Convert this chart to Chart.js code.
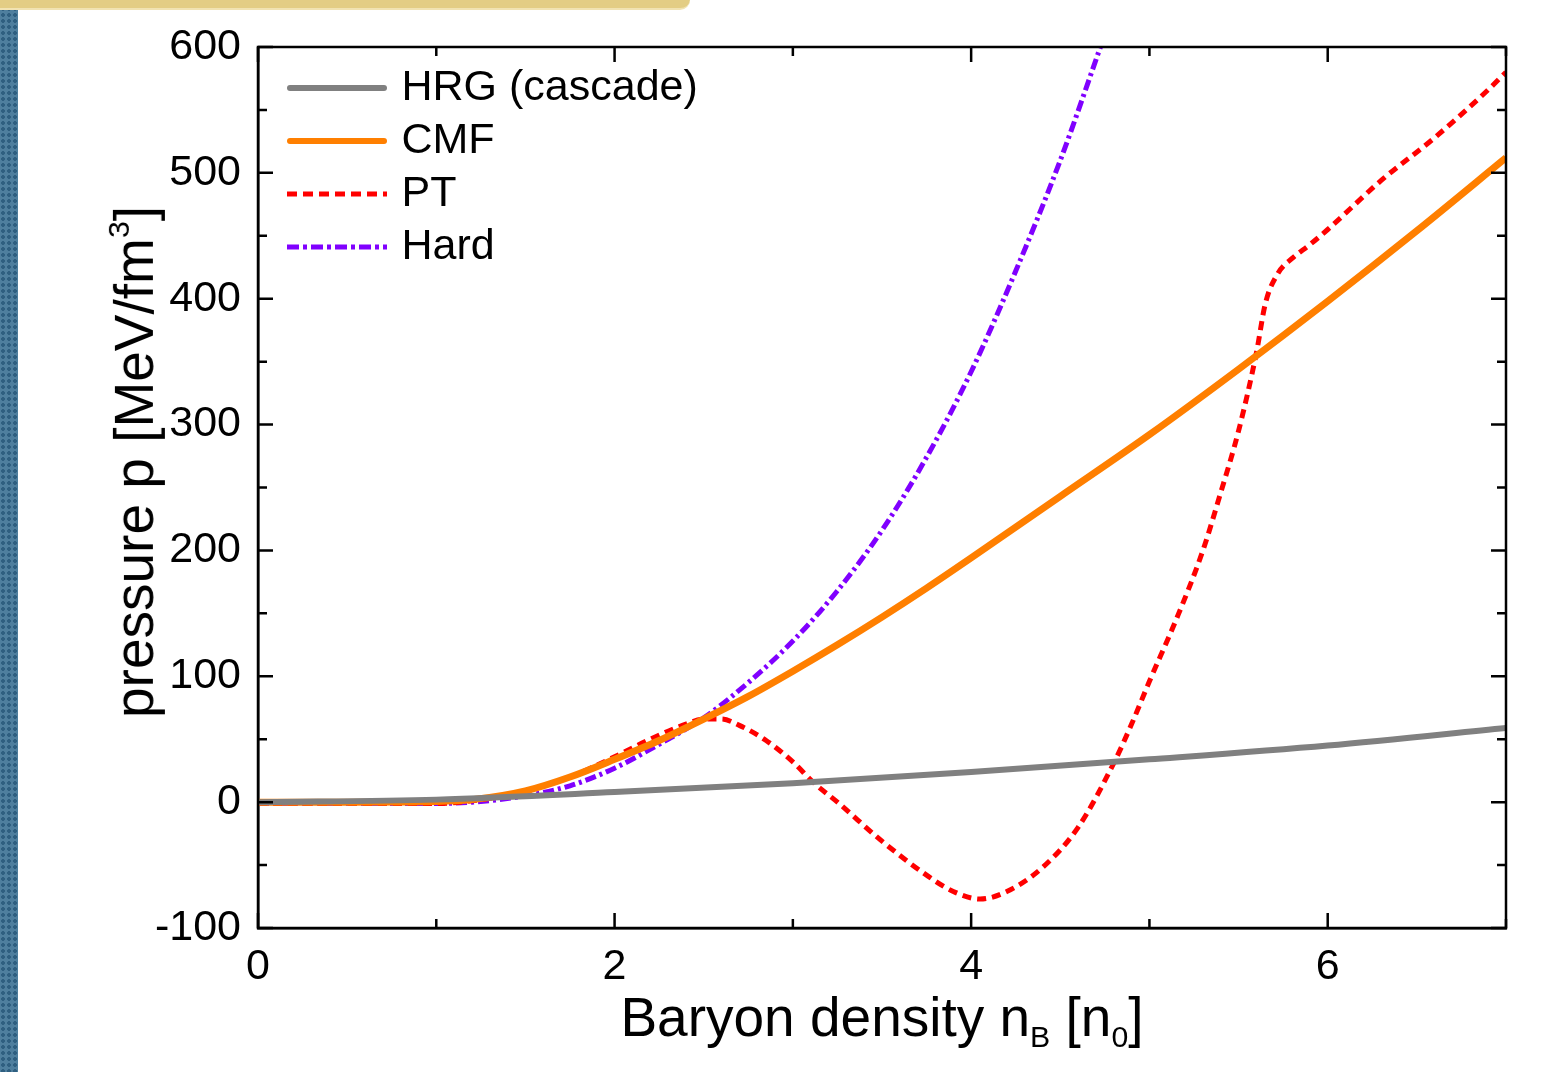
<!DOCTYPE html>
<html>
<head>
<meta charset="utf-8">
<script src="https://cdn.jsdelivr.net/npm/chart.js@4.4.1/dist/chart.umd.min.js"></script>
<style>
  html, body { margin:0; padding:0; background:#fff; }
  body { width:1553px; height:1072px; position:relative; overflow:hidden; font-family:"Liberation Sans", Arial, sans-serif; }
  #wrap { position:absolute; left:0; top:0; width:1553px; height:1072px; }
  #strip { position:absolute; left:0; top:0; width:18px; height:1072px;
    background-color:#4f7f9e;
    background-image: radial-gradient(circle, #2f5f80 1.6px, transparent 2.2px);
    background-size:6px 6px; }
  #bar { position:absolute; left:0; top:0; width:690px; height:8px; background:#e3cd84;
    border-bottom:2px solid #f1e3b2; border-radius:0 0 10px 0; }
  .ttl { position:absolute; font-size:55px; color:#000; white-space:nowrap; line-height:1; }
  .ttl sub { font-size:0.55em; vertical-align:-0.35em; }
  .ttl sup { font-size:0.55em; vertical-align:0.8em; }
  #xt { left:258px; width:1248px; top:990px; text-align:center; }
  #yt { left:133px; top:462px; transform:translate(-50%,-50%) rotate(-90deg); }
</style>
</head>
<body>
<div id="wrap"><canvas id="c" width="1553" height="1072"></canvas></div>
<div id="strip"></div>
<div id="bar"></div>
<div class="ttl" id="xt">Baryon density n<sub>B</sub> [n<sub>0</sub>]</div>
<div class="ttl" id="yt">pressure p [MeV/fm<sup>3</sup>]</div>
<script>
// ---- data ----
const seriesNames = ["HRG (cascade)", "CMF", "PT", "Hard"];

const hrgX = [0, 1, 2, 3, 4, 5, 6, 7];
const hrgP = [0, 2, 8, 15, 24, 34, 45, 59];

const cmfX = [0, 0.5, 1, 1.2, 1.5, 1.75, 2, 2.25, 2.5, 2.75, 3, 3.25, 3.5, 3.75, 4, 4.5, 5, 5.5, 6, 6.5, 7];
const cmfP = [0, 0, 0.5, 2, 9, 20, 34, 49, 66, 84, 104, 125, 147, 170, 194, 243, 292, 344, 398, 454, 512];

const ptX = [0, 1, 1.2, 1.5, 1.75, 2, 2.2, 2.4, 2.5, 2.6, 2.7, 2.85, 3, 3.12, 3.25, 3.5, 3.75, 3.9, 4.05, 4.2, 4.4, 4.6, 4.8, 4.9, 5, 5.15, 5.3, 5.4, 5.5, 5.6, 5.65, 5.72, 5.8, 5.9, 6, 6.3, 6.6, 6.9, 7];
const ptP = [-1, -1, 1, 9, 20, 36, 50, 62, 66, 66, 61, 49, 32, 15, 0, -31, -58, -71, -77, -71, -52, -20, 31, 62, 96, 145, 200, 246, 295, 357, 396, 420, 432, 443, 455, 494, 528, 566, 580];

const hardX = [0, 1, 1.2, 1.5, 1.75, 2, 2.25, 2.5, 2.75, 3, 3.25, 3.5, 3.75, 4, 4.25, 4.5, 4.75];
const hardP = [-1, -1, 0, 5, 13, 27, 46, 67, 95, 128, 168, 216, 274, 342, 422, 510, 610];

const xTickVals = [0, 2, 4, 6];
const xMinorVals = [0, 1, 2, 3, 4, 5, 6, 7];
const yTickVals = [-100, 0, 100, 200, 300, 400, 500, 600];
const yMinorVals = [-100, -50, 0, 50, 100, 150, 200, 250, 300, 350, 400, 450, 500, 550, 600];

const pts = (xs, ys) => xs.map((v, i) => ({x: v, y: ys[i]}));

// legend sample line images (dash patterns kept in the legend)
function legendLine(color, width, dash, cap) {
  const cv = document.createElement('canvas');
  cv.width = 100; cv.height = 14;
  const g = cv.getContext('2d');
  g.strokeStyle = color; g.lineWidth = width; g.lineCap = cap;
  g.setLineDash(dash);
  g.beginPath();
  const inset = cap === 'round' ? width / 2 : 0;
  g.moveTo(inset, 7); g.lineTo(100 - inset, 7);
  g.stroke();
  return cv;
}

const frameTicks = {
  id: 'frameTicks',
  afterDraw(chart) {
    const {ctx, chartArea: a, scales: {x, y}} = chart;
    ctx.save();
    ctx.strokeStyle = '#000';
    ctx.lineWidth = 2.5;
    ctx.lineCap = 'butt';
    ctx.strokeRect(a.left, a.top, a.right - a.left, a.bottom - a.top);
    ctx.beginPath();
    xMinorVals.forEach(v => {
      const px = x.getPixelForValue(v);
      const L = xTickVals.includes(v) ? 15 : 9;
      ctx.moveTo(px, a.bottom); ctx.lineTo(px, a.bottom - L);
      ctx.moveTo(px, a.top); ctx.lineTo(px, a.top + L);
    });
    yMinorVals.forEach(v => {
      const py = y.getPixelForValue(v);
      const L = yTickVals.includes(v) ? 15 : 9;
      ctx.moveTo(a.left, py); ctx.lineTo(a.left + L, py);
      ctx.moveTo(a.right, py); ctx.lineTo(a.right - L, py);
    });
    ctx.stroke();
    ctx.restore();
  }
};

const legendPlace = {
  id: 'legendPlace',
  afterLayout(chart) {
    if (chart.legend) {
      chart.legend.left = chart.chartArea.left + 26;
      chart.legend.top = chart.chartArea.top + 9.5;
    }
  }
};

const tickFont = {family: "'Liberation Sans', Arial, sans-serif", size: 43};

new Chart(document.getElementById('c'), {
  type: 'line',
  data: {
    datasets: [
      {label: seriesNames[0], data: pts(hrgX, hrgP), borderColor: '#808080', borderWidth: 6, pointRadius: 0,
       pointStyle: legendLine('#808080', 6, [], 'round'), cubicInterpolationMode: 'monotone', fill: false, clip: 0},
      {label: seriesNames[1], data: pts(cmfX, cmfP), borderColor: '#ff7f00', borderWidth: 7, pointRadius: 0,
       pointStyle: legendLine('#ff7f00', 6, [], 'round'), cubicInterpolationMode: 'monotone', fill: false, clip: 0},
      {label: seriesNames[2], data: pts(ptX, ptP), borderColor: '#ff0000', borderWidth: 5, borderDash: [9, 6], pointRadius: 0,
       pointStyle: legendLine('#ff0000', 5, [10, 6], 'butt'), cubicInterpolationMode: 'monotone', fill: false, clip: 0},
      {label: seriesNames[3], data: pts(hardX, hardP), borderColor: '#8000ff', borderWidth: 5, borderDash: [11, 4, 3, 4], pointRadius: 0,
       pointStyle: legendLine('#8000ff', 5, [12, 4, 4, 4], 'butt'), cubicInterpolationMode: 'monotone', fill: false, clip: 0}
    ]
  },
  options: {
    responsive: false,
    animation: false,
    events: [],
    layout: {padding: {left: 0, top: 47, right: 47, bottom: 0}},
    scales: {
      x: {
        type: 'linear', min: 0, max: 7,
        afterBuildTicks: s => { s.ticks = xTickVals.map(v => ({value: v})); },
        afterFit: s => { s.height = 1072 - 928; },
        grid: {display: false, drawTicks: false},
        border: {display: true, color: '#000', width: 2.5},
        ticks: {color: '#000', font: tickFont, padding: 13, maxRotation: 0}
      },
      y: {
        type: 'linear', min: -100, max: 600,
        afterBuildTicks: s => { s.ticks = yTickVals.map(v => ({value: v})); },
        afterFit: s => { s.width = 258; },
        grid: {display: false, drawTicks: false},
        border: {display: true, color: '#000', width: 2.5},
        ticks: {color: '#000', font: tickFont, padding: 17}
      }
    },
    plugins: {
      tooltip: {enabled: false},
      legend: {
        position: 'chartArea',
        align: 'start',
        labels: {
          usePointStyle: true,
          pointStyleWidth: 86,
          padding: 10,
          color: '#000',
          font: {family: "'Liberation Sans', Arial, sans-serif", size: 43}
        }
      }
    }
  },
  plugins: [frameTicks, legendPlace]
});
</script>
</body>
</html>
